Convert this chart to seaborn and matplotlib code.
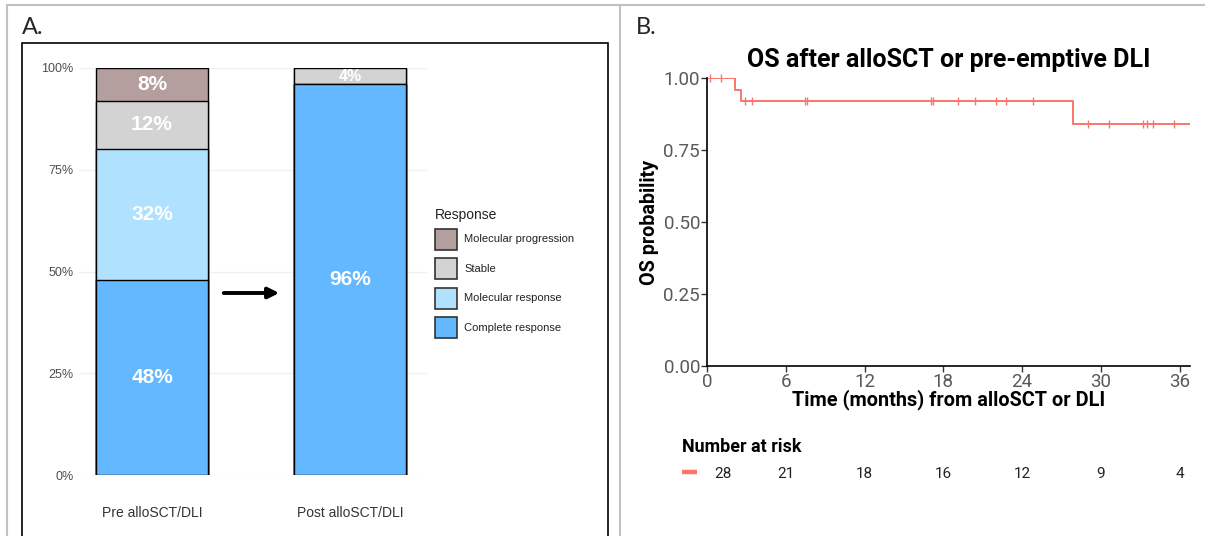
import numpy as np
import pandas as pd
import seaborn as sns
import matplotlib
matplotlib.use("Agg")
import matplotlib.pyplot as plt
import matplotlib.transforms as mtransforms
from matplotlib.patches import Rectangle
from matplotlib.lines import Line2D

# ---------------- data ----------------
timepoints = ["Pre alloSCT/DLI", "Post alloSCT/DLI"]
responses = ["Molecular progression", "Stable", "Molecular response", "Complete response"]
resp_colors = ["#B59E9E", "#D3D3D3", "#B0E2FF", "#63B8FF"]
pre_values = [8, 12, 32, 48]
post_values = [0, 4, 0, 96]

km_times = [0.0, 2.1, 2.6, 27.9, 38.0]
km_surv = [1.00, 0.96, 0.92, 0.84, 0.84]
censor_times = [0.25, 1.1, 2.9, 3.45, 7.5, 7.6, 17.05, 17.2, 19.1, 20.45, 22.0, 22.75,
                24.8, 29.0, 30.6, 33.2, 33.55, 33.95, 35.6]
risk_times = [0, 6, 12, 18, 24, 30, 36]
risk_counts = [28, 21, 18, 16, 12, 9, 4]
y_ticks_a = [0, 25, 50, 75, 100]
x_ticks_b = [0, 6, 12, 18, 24, 30, 36]
y_ticks_b = [0.00, 0.25, 0.50, 0.75, 1.00]

# ---------------- figure ----------------
W, H = 1205, 536
def fx(x): return x / W
def fy(y): return 1 - y / H

sns.set_theme(style="white")
plt.rcParams["font.family"] = ["Liberation Sans", "DejaVu Sans"]

fig = plt.figure(figsize=(W / 100, H / 100), dpi=100)

# outer frame lines
gray = "#C0C0C0"
for (x0, y0, x1, y1) in [(7, 5, 1205, 5), (7, 5, 7, 536), (620, 5, 620, 536)]:
    fig.add_artist(Line2D([fx(x0), fx(x1)], [fy(y0), fy(y1)], color=gray, lw=1.5,
                          transform=fig.transFigure))
# panel A black box
fig.add_artist(Rectangle((fx(22), fy(545)), fx(608) - fx(22), fy(43) - fy(545),
                         fill=False, edgecolor="black", lw=1.2, transform=fig.transFigure))

fig.text(fx(22), fy(28), "A.", fontsize=17, va="center", ha="left", family=["Lato", "DejaVu Sans"])
fig.text(fx(636), fy(28), "B.", fontsize=17, va="center", ha="left", family=["Lato", "DejaVu Sans"])

# ---------------- Panel A: stacked bars ----------------
axA = fig.add_axes([fx(79), fy(475), (427 - 79) / W, (475 - 68) / H])
for i, (resp, col) in enumerate(zip(responses, resp_colors)):
    tops = [sum(pre_values[i:]), sum(post_values[i:])]
    df = pd.DataFrame({"tp": timepoints, "top": tops})
    sns.barplot(data=df, x="tp", y="top", color=col, saturation=1, width=0.565,
                edgecolor="black", linewidth=1.0, ax=axA, zorder=3)

for j, vals in enumerate([pre_values, post_values]):
    for i, v in enumerate(vals):
        if v <= 0:
            continue
        center = sum(vals[i + 1:]) + v / 2
        axA.text(j, center, f"{v}%", ha="center", va="center", color="white",
                 fontsize=15 if v >= 5 else 11.5, fontweight="bold", zorder=5)

axA.set_xlim(-0.369, 1.389)
axA.set_ylim(0, 100)
axA.set_yticks(y_ticks_a)
axA.set_yticklabels([f"{t}%" for t in y_ticks_a])
axA.grid(axis="y", color="#F0F0F0", lw=1, zorder=0)
axA.grid(axis="x", visible=False)
for s in axA.spines.values():
    s.set_visible(False)
axA.set_xlabel("")
axA.set_ylabel("")
axA.tick_params(axis="y", length=0, pad=4, labelsize=9, labelcolor="#4D4D4D")
axA.tick_params(axis="x", length=0, pad=22, labelsize=10, labelcolor="#333333")
axA.set_facecolor("none")

# arrow between bars
fig.add_artist(matplotlib.patches.FancyArrowPatch(
    (fx(221), fy(293)), (fx(282), fy(293)), transform=fig.transFigure,
    arrowstyle="-|>", mutation_scale=16, lw=2.8, color="black"))

# legend (manual)
fig.text(fx(435), fy(214.5), "Response", fontsize=10, va="center", ha="left", color="#222222")
for k, (resp, col) in enumerate(zip(responses, resp_colors)):
    yc = 239 + k * 29.6
    fig.add_artist(Rectangle((fx(435), fy(yc + 10.5)), 21.5 / W, 21 / H, facecolor=col,
                             edgecolor="#333333", lw=1.2, transform=fig.transFigure))
    fig.text(fx(464), fy(yc), resp, fontsize=8, va="center", ha="left", color="#222222")

# ---------------- Panel B: Kaplan-Meier ----------------
salmon = "#F8766D"
fontB = ["Roboto", "DejaVu Sans"]
axB = fig.add_axes([fx(707), fy(366), (1190 - 707) / W, (366 - 78) / H])
km_df = pd.DataFrame({"time": km_times, "surv": km_surv})
sns.lineplot(data=km_df, x="time", y="surv", drawstyle="steps-post", color=salmon,
             lw=1.4, estimator=None, sort=False, ax=axB, clip_on=True)
ev_t = np.array(km_times)
ev_s = np.array(km_surv)
c_surv = [ev_s[np.searchsorted(ev_t, t, side="right") - 1] for t in censor_times]
cens_df = pd.DataFrame({"time": censor_times, "surv": c_surv})
sns.scatterplot(data=cens_df, x="time", y="surv", marker="|", s=36, color=salmon,
                linewidth=1.0, ax=axB, clip_on=False, zorder=4)

axB.set_xlim(0, 36.8)
axB.set_ylim(0, 1)
axB.set_xticks(x_ticks_b)
axB.set_yticks(y_ticks_b)
axB.set_yticklabels([f"{t:.2f}" for t in y_ticks_b])
for lab in axB.get_xticklabels() + axB.get_yticklabels():
    lab.set_fontfamily(fontB)
axB.tick_params(axis="both", length=4, width=1, color="#333333", labelsize=13.5,
                labelcolor="#595959", pad=1, direction="out", bottom=True, left=True)
for side in ["top", "right"]:
    axB.spines[side].set_visible(False)
for side in ["left", "bottom"]:
    axB.spines[side].set_color("black")
    axB.spines[side].set_linewidth(1.2)
axB.set_xlabel("Time (months) from alloSCT or DLI", fontsize=14.3, fontweight="bold",
               family=fontB, labelpad=-1, color="black")
axB.set_ylabel("OS probability", fontsize=14.2, fontweight="bold", family=fontB,
               labelpad=3, color="black")
axB.set_title("OS after alloSCT or pre-emptive DLI", fontsize=18, fontweight="bold",
              family=fontB, pad=8, color="black")
axB.set_facecolor("none")

# number at risk table
fig.text(fx(682), fy(447), "Number at risk", fontsize=12.9, fontweight="bold",
         family=fontB, va="center", ha="left", color="black")
fig.add_artist(Line2D([fx(682), fx(697)], [fy(472), fy(472)], color=salmon, lw=3.2,
                      transform=fig.transFigure, solid_capstyle="butt"))
blend = mtransforms.blended_transform_factory(axB.transData, fig.transFigure)
for i, (t, n) in enumerate(zip(risk_times, risk_counts)):
    tr = blend
    if i == 0:
        tr = blend + mtransforms.ScaledTranslation(16 / 100, 0, fig.dpi_scale_trans)
    fig.text(t, fy(474), str(n), transform=tr, fontsize=11, family=fontB,
             ha="center", va="center", color="#222222")

fig.savefig("out.png", dpi=100, facecolor="white")
